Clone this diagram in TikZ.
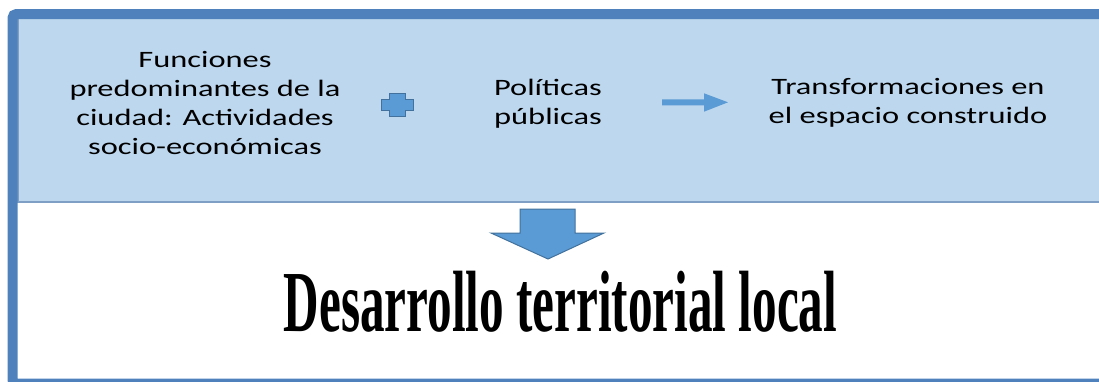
\documentclass[tikz,border=0pt]{standalone}
\usepackage{fontspec}
\newfontfamily\bodyfont[FakeStretch=1.38]{Carlito}
\newfontfamily\titlefont[FakeStretch=0.565]{Liberation Serif}
\definecolor{frameblue}{HTML}{4F81BD}
\definecolor{panelblue}{HTML}{BDD7EE}
\definecolor{paneledge}{HTML}{7F9FC4}
\definecolor{shapeblue}{HTML}{5B9BD5}
\definecolor{shapeline}{HTML}{41719C}
\tikzset{
  boxtext/.style={align=center, font=\bodyfont\fontsize{23.5}{28.8}\selectfont},
  blockshape/.style={fill=shapeblue, draw=shapeline, line width=1pt, line join=miter},
}
\begin{document}
\begin{tikzpicture}[x=1pt, y=-1pt]
        \useasboundingbox (0,0) rectangle (1099,381);
        % upper panel
        \fill[panelblue] (17,19) rectangle (1099,201);
        \draw[paneledge, line width=2pt] (18,19) -- (18,202) -- (1099,202);
        % frame
        \draw[frameblue, line width=10pt, rounded corners=4pt] (12.5,14) rectangle (1120,383.7);
        % texts
        \node[boxtext] (func) at (205,103) {Funciones\\predominantes de la\\ciudad: Actividades\\socio-económicas};
        \node[boxtext] (pol) at (548,103.5) {Políticas\\públicas};
        \node[boxtext] (trans) at (908,102.5) {Transformaciones en\\el espacio construido};
        % plus sign
        \draw[blockshape] (389,93) -- (405,93) -- (405,99) -- (413,99) -- (413,110) -- (405,110)
                -- (405,116) -- (389,116) -- (389,110) -- (381,110) -- (381,99) -- (389,99) -- cycle;
        % right arrow
        \fill[shapeblue] (662,99.3) -- (704,99.3) -- (704,93.3) -- (728,102.3) -- (704,111.7)
                -- (704,105.3) -- (662,105.3) -- cycle;
        % down arrow
        \draw[blockshape] (520,209) -- (575,209) -- (575,233) -- (604,233) -- (548,259)
                -- (491,233) -- (520,233) -- cycle;
        \node[anchor=base] (title) at (560.5,331) {\titlefont\bfseries\fontsize{87}{87}\selectfont Desarrollo territorial local};
\end{tikzpicture}
\end{document}
